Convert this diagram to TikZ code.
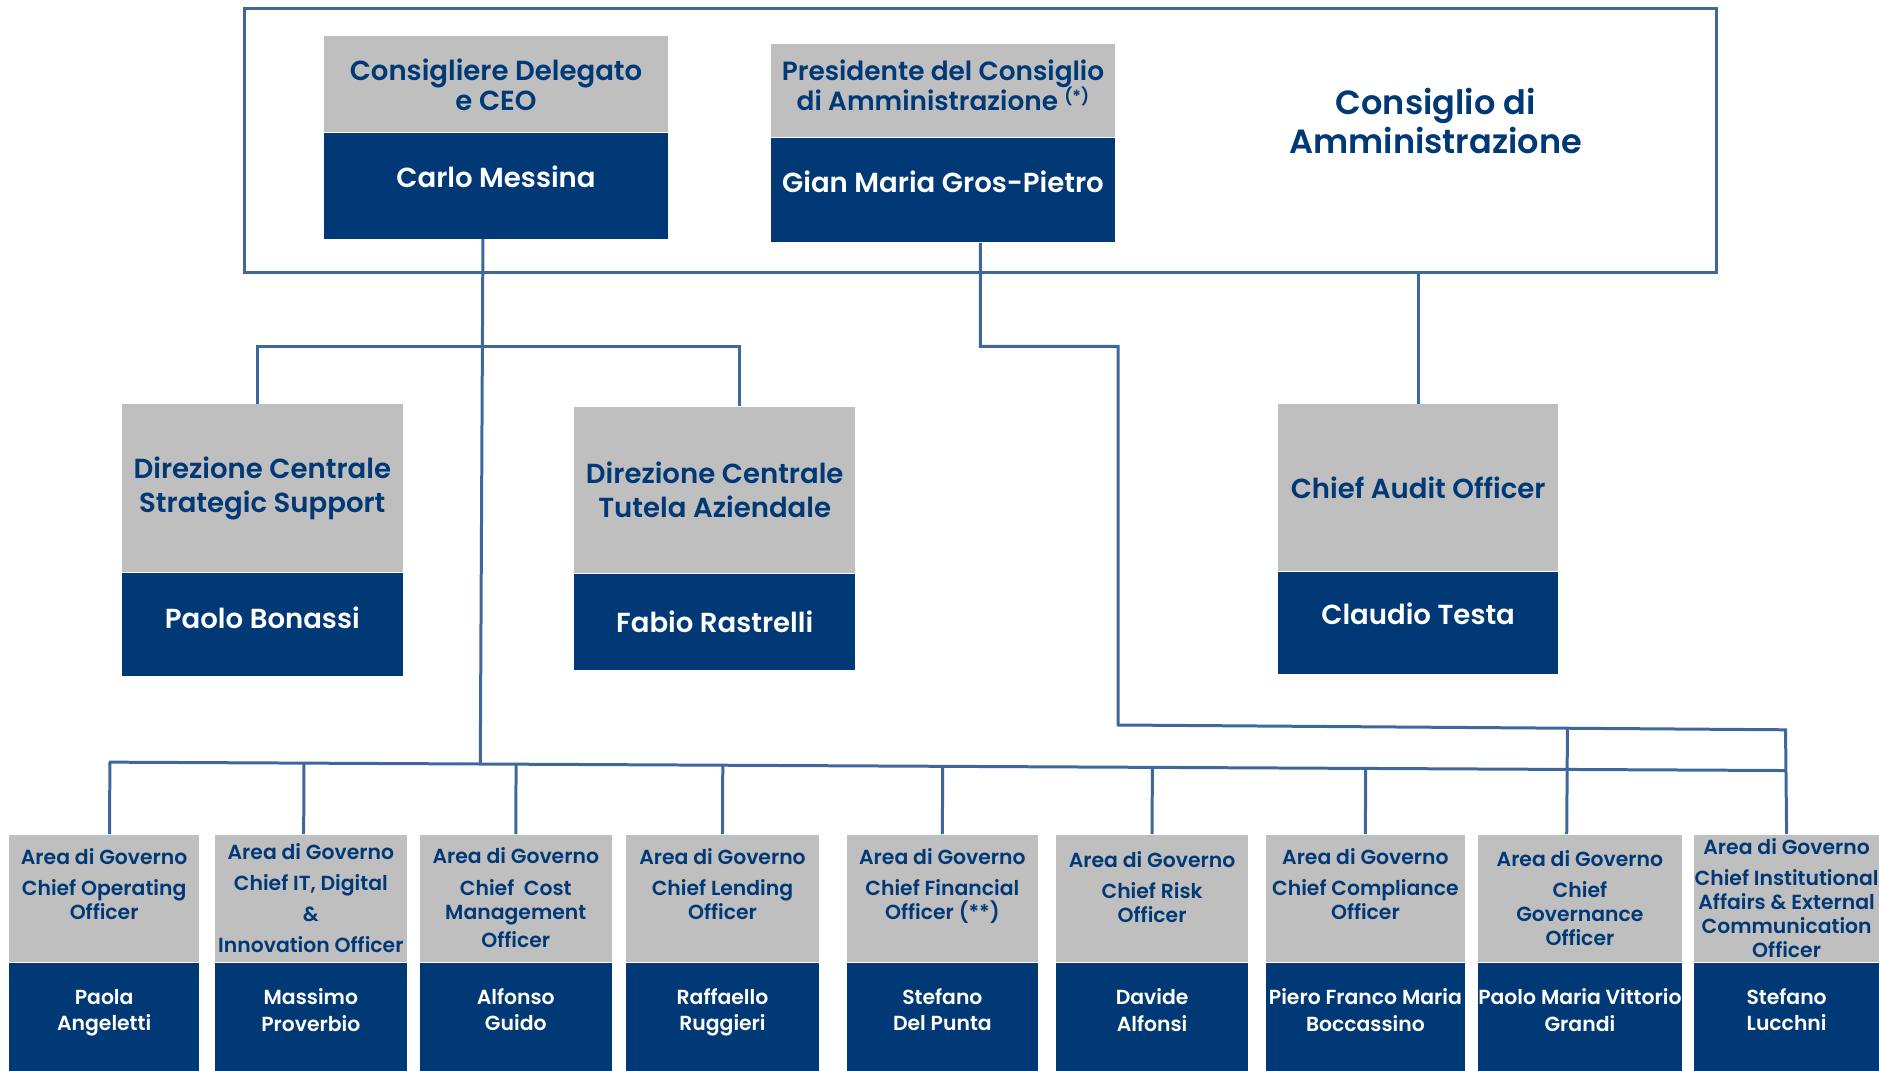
\documentclass[tikz,border=0pt]{standalone}
\usepackage{fontspec}
\setmainfont{Poppins}[BoldFont={Poppins SemiBold}]
\usetikzlibrary{positioning}
\usetikzlibrary{calc}
\definecolor{isNavy}{RGB}{0,57,118}
\definecolor{isGray}{RGB}{191,191,191}
\definecolor{isLine}{RGB}{62,104,156}

\begin{document}
\begin{tikzpicture} [x=0.5pt, y=-0.5pt,
          role/.style = {fill=isGray, text=isNavy, align=center, inner sep=0pt, anchor=north west},
          holder/.style = {fill=isNavy, text=white, align=center, inner sep=0pt},
          link/.style = {draw=isLine, line width=1.25pt},
          headtxt/.style = {font=\fontsize{11.5}{12.5}\selectfont\bfseries},
          nametxt/.style = {font=\fontsize{11.5}{14}\selectfont\bfseries},
          area/.style = {role, minimum width=80pt, minimum height=53pt, font=\fontsize{8.5}{10}\selectfont\bfseries},
          person/.style = {holder, minimum height=45.5pt, font=\fontsize{8.5}{11}\selectfont\bfseries}
          ]
          \useasboundingbox (0,0) rectangle (1568,893);
          % board
          \draw[link] (204,7) rectangle (1432,227);
          \node[text=isNavy, align=center, font=\fontsize{14}{16.5}\selectfont\bfseries] (board) at (1198,101) {Consiglio di\\Amministrazione};
          \node[role, headtxt, minimum width=143.5pt, minimum height=40pt] (ceoT) at (270,30) {Consigliere Delegato\\e CEO};
          \node[holder, nametxt, below=0pt of ceoT, minimum width=143.5pt, minimum height=44pt] (ceoN) {Carlo Messina\\[-6pt]};
          \node[role, headtxt, font=\fontsize{11}{12.5}\selectfont\bfseries, minimum width=143.5pt, minimum height=39pt] (presT) at (643,36) {Presidente del Consiglio\\di Amministrazione \smash{\raisebox{3.5pt}{\fontsize{7}{7}\selectfont(*)}}\\[-8.5pt]};
          \node[holder, nametxt, below=0pt of presT, minimum width=143.5pt, minimum height=43.5pt] (presN) {Gian Maria Gros-Pietro\\[-7pt]};
          % direzioni centrali and audit
          \node[role, nametxt, minimum width=117.5pt, minimum height=70pt] (dcsT) at (101,337) {Direzione Centrale\\Strategic Support};
          \node[holder, nametxt, below=0pt of dcsT, minimum width=117.5pt, minimum height=43pt] (dcsN) {Paolo Bonassi\\[-8pt]};
          \node[role, nametxt, minimum width=117pt, minimum height=69.5pt] (dctT) at (479,339) {Direzione Centrale\\Tutela Aziendale};
          \node[holder, nametxt, below=0pt of dctT, minimum width=117pt, minimum height=40pt] (dctN) {Fabio Rastrelli};
          \node[role, nametxt, minimum width=117pt, minimum height=69.5pt] (audT) at (1066,337) {Chief Audit Officer};
          \node[holder, nametxt, below=0pt of audT, minimum width=117pt, minimum height=42.5pt] (audN) {Claudio Testa\\[-6pt]};
          % aree di governo
          \node[area, minimum width=79.5pt] (cooT) at (7,696) {Area di Governo\\[3pt]Chief Operating\\Officer\\[2pt]};
          \node[person, below=0pt of cooT, minimum width=79.5pt] (cooN) {Paola\\Angeletti\\[-5pt]};
          \node[area] (citT) at (179,696) {Area di Governo\\[3pt]Chief IT, Digital\\[3pt]\&\\[3pt]Innovation Officer};
          \node[person, below=0pt of citT, minimum width=80pt] (citN) {Massimo\\Proverbio\\[-5pt]};
          \node[area] (ccmT) at (350,696) {Area di Governo\\[3pt]Chief\ \ Cost\\Management\\[2pt]Officer};
          \node[person, below=0pt of ccmT, minimum width=80pt] (ccmN) {Alfonso\\Guido\\[-5pt]};
          \node[area, minimum width=80.5pt] (cloT) at (522,696) {Area di Governo\\[3pt]Chief Lending\\Officer\\[2pt]};
          \node[person, below=0pt of cloT, minimum width=80.5pt] (cloN) {Raffaello\\Ruggieri\\[-5pt]};
          \node[area] (cfoT) at (706,696) {Area di Governo\\[3pt]Chief Financial\\Officer (**)\\[2pt]};
          \node[person, below=0pt of cfoT, minimum width=80pt] (cfoN) {Stefano\\Del Punta\\[-5pt]};
          \node[area] (croT) at (881,696) {Area di Governo\\[3pt]Chief Risk\\Officer\\[-1pt]};
          \node[person, below=0pt of croT, minimum width=80pt] (croN) {Davide\\Alfonsi\\[-5pt]};
          \node[area, minimum width=83pt] (ccoT) at (1056,696) {Area di Governo\\[3pt]Chief Compliance\\Officer\\[2pt]};
          \node[person, below=0pt of ccoT, minimum width=83pt] (ccoN) {Piero Franco Maria\\Boccassino\\[-5pt]};
          \node[area, minimum width=85pt] (cgoT) at (1233,696) {Area di Governo\\[3pt]Chief\\Governance\\Officer};
          \node[person, below=0pt of cgoT, minimum width=85pt] (cgoN) {Paolo Maria Vittorio\\Grandi\\[-5pt]};
          \node[area, minimum width=77.5pt] (ciaT) at (1413,696) {Area di Governo\\[3pt]Chief Institutional\\Affairs \& External\\Communication\\Officer};
          \node[person, below=0pt of ciaT, minimum width=77.5pt] (ciaN) {Stefano\\Lucchni\\[-5pt]};
          % reporting lines
          \coordinate (busL) at (91,636);
          \coordinate (busR) at (1490,643);
          \coordinate (ceoX) at (403,0);
          \coordinate (dirL) at (215,289);
          \coordinate (dirR) at (617,289);
          \coordinate (presX) at (818,0);
          \coordinate (presJ) at (933,289);
          \coordinate (pbusL) at (933,605);
          \coordinate (pbusR) at (1490,609);
          \coordinate (frameB) at (0,227);
          \draw[link] (ceoX |- ceoN.south) -- ($(busL)!(ceoX |- ceoN.south)!(busR)$);
          \draw[link] (dirL |- dcsT.north) -- (dirL) -- (dirR) -- (dirR |- dctT.north);
          \draw[link] (presX |- presN.south) |- (presJ) -- (pbusL) -- (pbusR) -- (ciaT.north);
          \draw[link] (audT.north) -- (audT.north |- frameB);
          \draw[link] (busL) -- (busR);
          \draw[link] ([xshift=2.25pt]cooT.north) -- ($(busL)!([xshift=2.25pt]cooT.north)!(busR)$);
          \draw[link] ([xshift=-3pt]citT.north) -- ($(busL)!([xshift=-3pt]citT.north)!(busR)$);
          \draw[link] (ccmT.north) -- ($(busL)!(ccmT.north)!(busR)$);
          \draw[link] (cloT.north) -- ($(busL)!(cloT.north)!(busR)$);
          \draw[link] (cfoT.north) -- ($(busL)!(cfoT.north)!(busR)$);
          \draw[link] (croT.north) -- ($(busL)!(croT.north)!(busR)$);
          \draw[link] (ccoT.north) -- ($(busL)!(ccoT.north)!(busR)$);
          \draw[link] ([xshift=-5.5pt]cgoT.north) -- ($(pbusL)!([xshift=-5.5pt]cgoT.north)!(pbusR)$);
        \end{tikzpicture}
\end{document}
